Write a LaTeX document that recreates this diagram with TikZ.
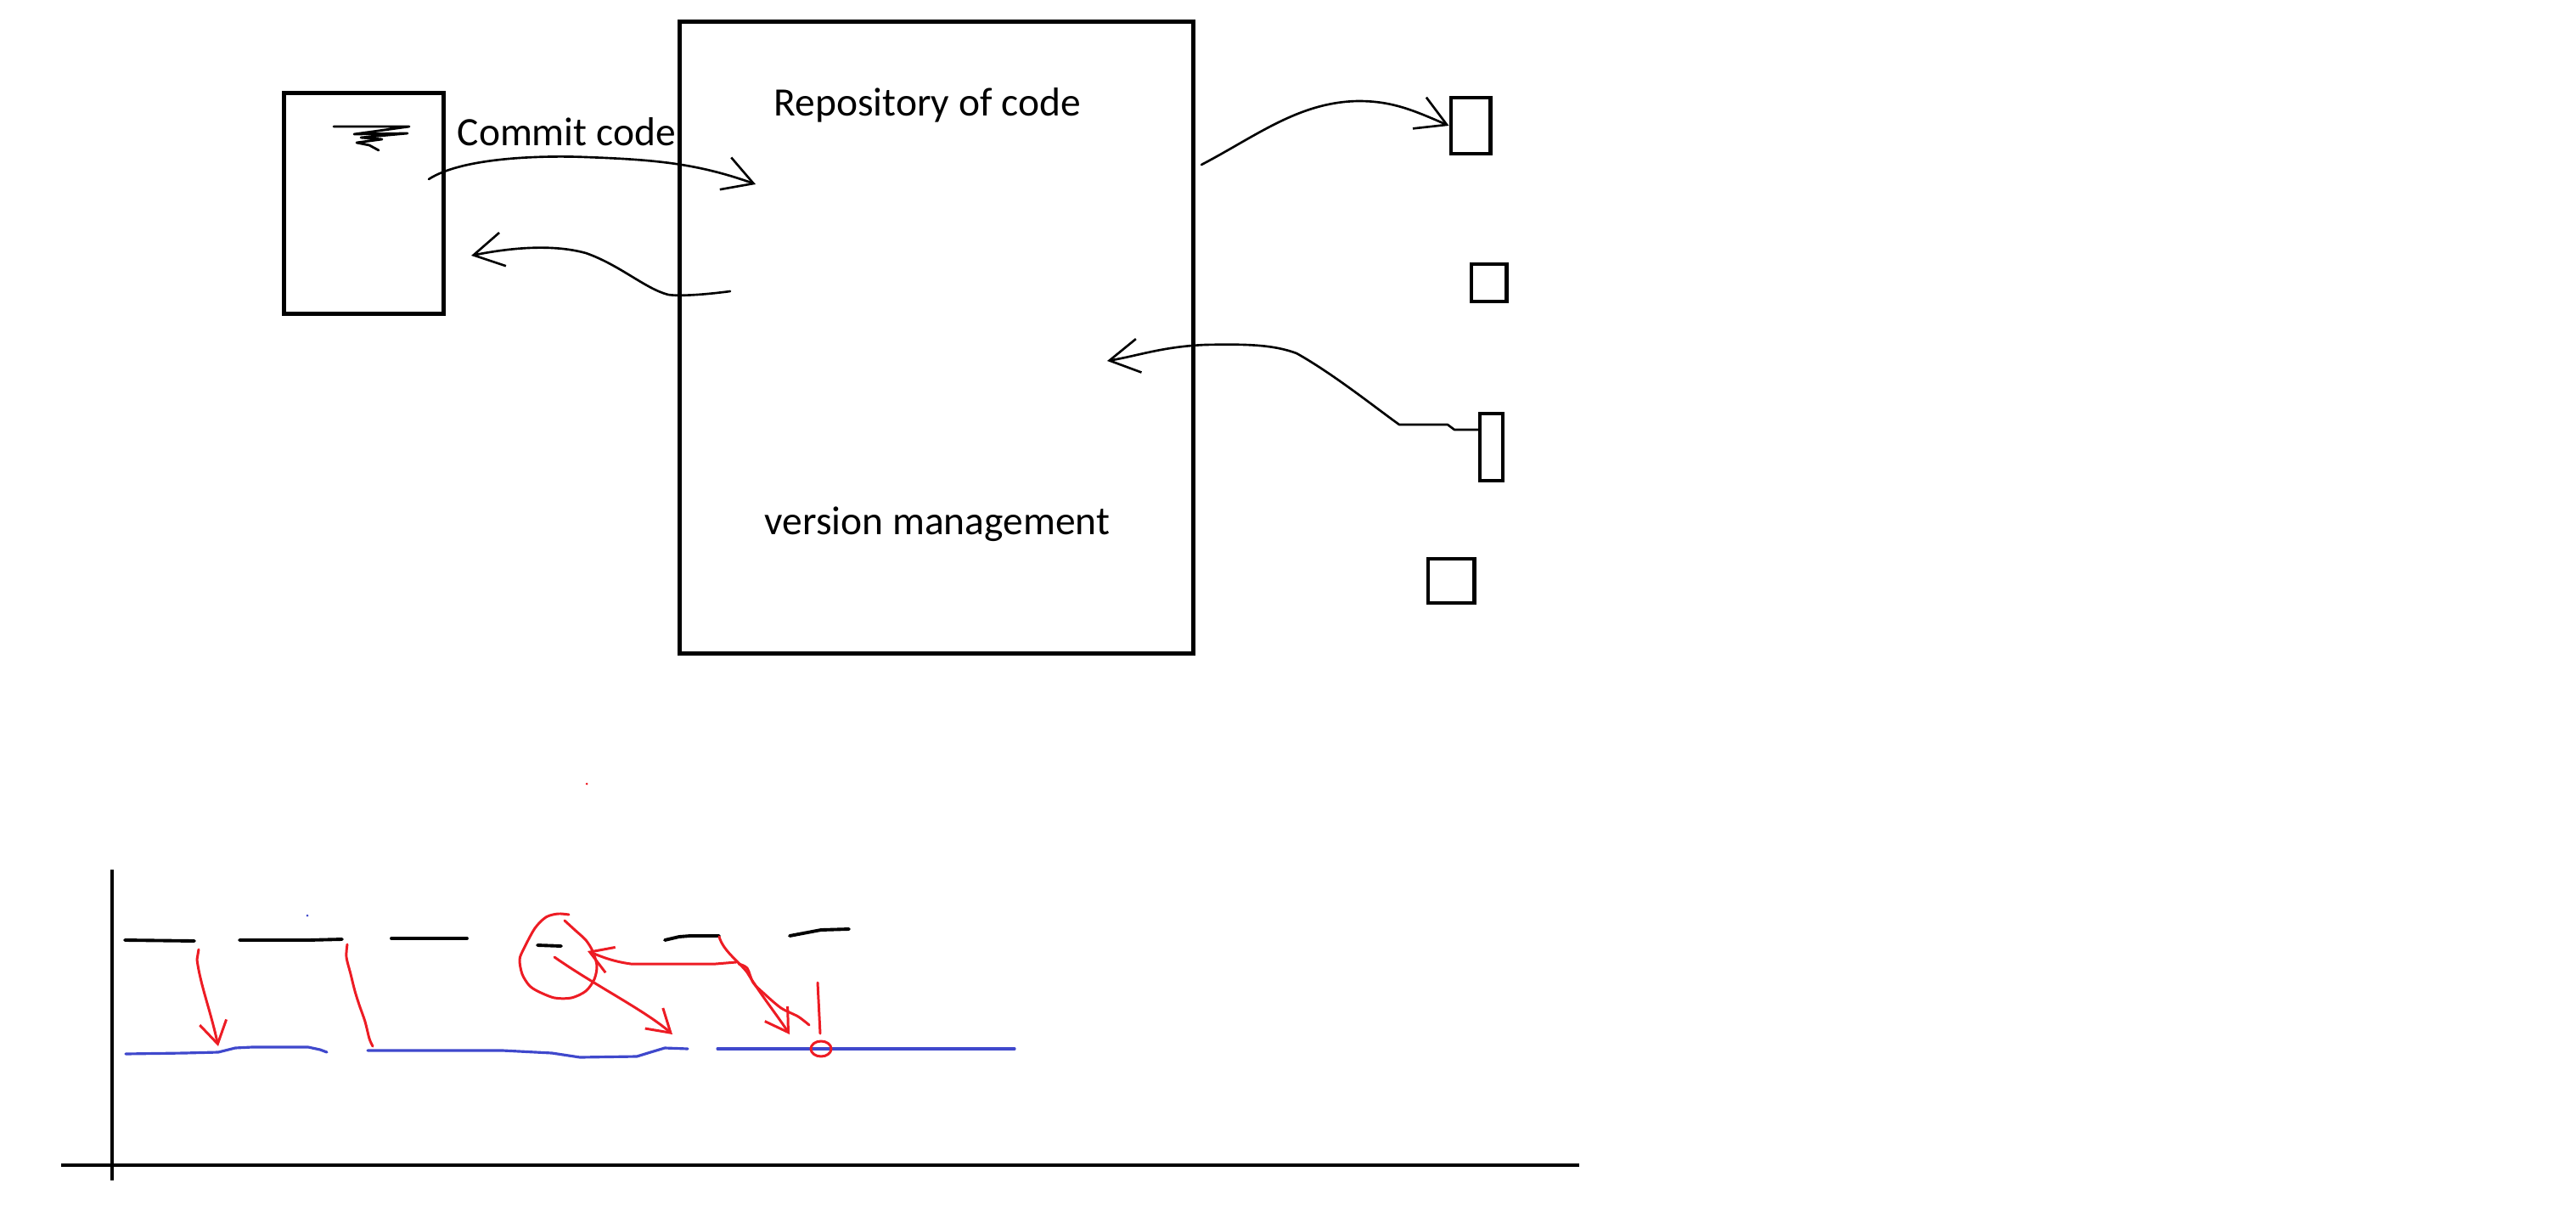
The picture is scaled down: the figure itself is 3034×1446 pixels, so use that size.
\documentclass[tikz,border=0pt]{standalone}
\usepackage{fontspec}
\setmainfont{Carlito}
\usetikzlibrary{arrows.meta}
\definecolor{paintred}{RGB}{237,28,36}
\definecolor{paintblue}{RGB}{63,72,204}

\tikzset{
  sketchbox/.style={draw, line width=1.4pt, inner sep=0pt},
  sketchline/.style={line width=.75pt, line cap=round, line join=round},
  sketcharrow/.style={sketchline, -{Straight Barb[length=3.5mm, width=4mm]}},
  redline/.style={paintred, line width=.85pt, line cap=round, line join=round},
  redarrow/.style={redline, -{Straight Barb[length=2.6mm, width=3.2mm]}},
  blueline/.style={paintblue, line width=.9pt, line cap=round, line join=round},
  dashline/.style={line width=1.1pt, line cap=round, line join=round},
  axisline/.style={line width=1.3pt},
  sketchlabel/.style={font=\fontsize{13.5}{16}\selectfont, inner sep=0pt, anchor=base west}
}

\begin{document}
\begin{tikzpicture}[x=0.01cm, y=-0.01cm]
\useasboundingbox (0,0) rectangle (3034,1446);

\node[sketchbox, minimum width=1.87cm, minimum height=2.59cm] (devbox) at (428.5,239.5) {};
\node[sketchbox, minimum width=6.04cm, minimum height=7.43cm] (repobox) at (1103,397.5) {};

\node[sketchbox, minimum width=0.46cm, minimum height=0.66cm] (client1) at (1732,148) {};
\node[sketchbox, minimum width=0.41cm, minimum height=0.44cm] (client2) at (1753.5,333) {};
\node[sketchbox, minimum width=0.27cm, minimum height=0.79cm] (client3) at (1756.5,526.5) {};
\node[sketchbox, minimum width=0.54cm, minimum height=0.52cm] (client4) at (1709,684) {};

\node[sketchlabel] (committext) at (538,172) {Commit code};
\node[sketchlabel] (repotext) at (911,137) {Repository of code};
\node[sketchlabel] (versiontext) at (900,629) {version management};

\coordinate (commitstart) at (505,211);
\coordinate (commitend) at (890,217);
\coordinate (pullstart) at (860,343);
\coordinate (pullend) at (555,301);
\coordinate (pushstart) at (1415,194);
\coordinate (fetchstart) at (1743,506);
\coordinate (fetchend) at (1304,425);

\draw[sketchline, line width=.8pt] (393,149) -- (482,149) -- (417,158) -- (480,157) -- (425,162) -- (450,164) -- (420,168) -- (435,171) -- (446,177);

\draw[sketcharrow] (commitstart) .. controls (545,185) and (640,183) .. (690,185) .. controls (770,188) and (820,192) .. (commitend);
\draw[sketcharrow] (pullstart) .. controls (830,347) and (800,349) .. (787,347) .. controls (760,340) and (730,312) .. (690,298) .. controls (650,287) and (600,292) .. (pullend);
\draw[sketcharrow] (pushstart) .. controls (1480,160) and (1530,120) .. (1600,119) .. controls (1640,119) and (1665,130) .. (client1.west);
\draw[sketcharrow] (fetchstart) -- (1713,506) -- (1705,500) -- (1648,500) .. controls (1620,480) and (1570,440) .. (1527,416) .. controls (1500,406) and (1470,405) .. (1420,406) .. controls (1370,408) and (1340,419) .. (fetchend);

\draw[axisline] (132,1024) -- (132,1390);
\draw[axisline] (72,1372) -- (1860,1372);

\draw[dashline] (147,1107) -- (229,1108);
\draw[dashline] (282,1107) -- (363,1107) -- (403,1106);
\draw[dashline] (461,1105) -- (550,1105);
\draw[dashline] (633,1113) -- (661,1114);
\draw[dashline] (783,1107) -- (800,1103) -- (813,1102) -- (847,1102);
\draw[dashline] (930,1102) -- (967,1095) -- (1000,1094);

\draw[blueline] (148,1241) -- (217,1240) -- (257,1239) -- (277,1234) -- (297,1233) -- (363,1233) -- (377,1236) -- (385,1239);
\draw[blueline] (433,1237) -- (592,1237) -- (650,1240) -- (683,1245) -- (750,1244) -- (763,1240) -- (783,1234) -- (810,1235);
\draw[blueline] (845,1235) -- (1195,1235);

\coordinate (drop1start) at (234,1118);
\coordinate (drop1end) at (257,1232);
\coordinate (loopstart) at (653,1127);
\coordinate (loopend) at (792,1218);
\coordinate (backstart) at (867,1133);
\coordinate (backend) at (692,1120);
\coordinate (mergestart) at (847,1103);
\coordinate (mergeend) at (930,1218);

\draw[redarrow] (drop1start) -- (232,1130) .. controls (236,1160) and (248,1190) .. (drop1end);
\draw[redline] plot[smooth] coordinates {(409,1112) (408,1127) (413,1147) (418,1167) (423,1183) (430,1203) (435,1223) (439,1232)};
\draw[redline] plot[smooth] coordinates {(670,1077) (657,1076) (643,1080) (630,1093) (617,1117) (612,1130) (615,1147) (623,1160) (633,1167) (653,1175) (673,1175) (690,1167) (700,1153) (703,1137) (698,1120) (690,1107) (677,1095) (665,1084)};
\draw[redarrow] (loopstart) .. controls (700,1160) and (760,1190) .. (loopend);
\draw[redarrow] (backstart) -- (843,1135) -- (743,1135) .. controls (720,1132) and (705,1125) .. (backend);
\draw[redarrow] (mergestart) .. controls (852,1120) and (870,1132) .. (880,1145) .. controls (895,1170) and (915,1195) .. (mergeend);
\draw[redline] plot[smooth] coordinates {(870,1135) (880,1140) (887,1157) (900,1170) (920,1187) (940,1197) (953,1207)};
\draw[redline] (963,1157) -- (966,1217);
\draw[redline] (967,1235) ellipse [x radius=12, y radius=9];

\fill[paintred] (691,923) circle [radius=1.5];
\fill[paintblue] (362,1078) circle [radius=1.5];
\end{tikzpicture}
\end{document}
